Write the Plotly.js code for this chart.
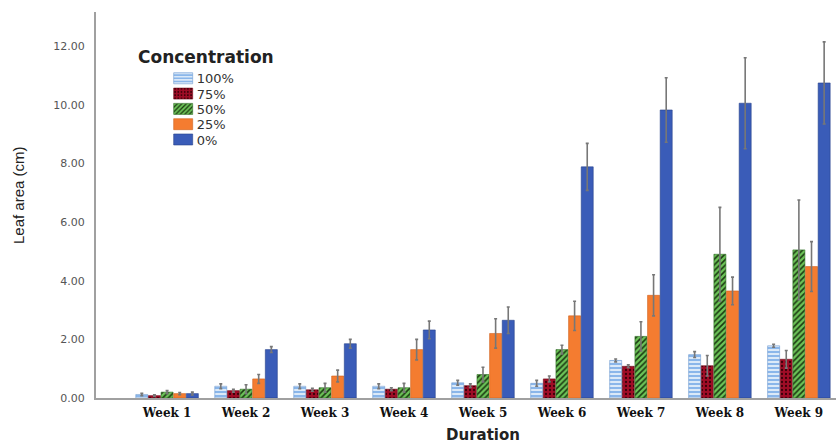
<!DOCTYPE html>
<html>
<head>
<meta charset="utf-8">
<script src="https://cdn.plot.ly/plotly-3.0.1.min.js"></script>
<style>html,body{margin:0;padding:0;background:#fff;}#chart{width:836px;height:443px;}</style>
</head>
<body>
<div id="chart"></div>
<script>
const weeks = ['Week 1','Week 2','Week 3','Week 4','Week 5','Week 6','Week 7','Week 8','Week 9'];
const seriesNames = ['100%','75%','50%','25%','0%'];
const conc100 = [0.12,0.40,0.40,0.40,0.52,0.50,1.28,1.48,1.78];
const conc75  = [0.08,0.25,0.28,0.30,0.42,0.65,1.08,1.10,1.32];
const conc50  = [0.20,0.30,0.35,0.35,0.80,1.65,2.10,4.90,5.05];
const conc25  = [0.15,0.65,0.75,1.65,2.20,2.80,3.50,3.65,4.48];
const conc0   = [0.15,1.65,1.85,2.32,2.65,7.88,9.82,10.05,10.74];
const err100 = [0.04,0.08,0.08,0.08,0.08,0.10,0.05,0.10,0.05];
const err75  = [0.03,0.05,0.05,0.05,0.06,0.10,0.05,0.35,0.30];
const err50  = [0.05,0.15,0.15,0.15,0.25,0.15,0.50,1.60,1.70];
const err25  = [0.04,0.15,0.20,0.35,0.50,0.50,0.70,0.47,0.85];
const err0   = [0.05,0.10,0.15,0.30,0.45,0.80,1.10,1.55,1.40];
const yTicks = [0,2,4,6,8,10,12];

const values = [conc100, conc75, conc50, conc25, conc0];
const errors = [err100, err75, err50, err25, err0];
const styles = [
  {color:'#8ab6ea', line:'#6f9ad0', pattern:{shape:'-', fgcolor:'#ffffff', bgcolor:'#8ab6ea', size:4, solidity:0.35}},
  {color:'#a00c26', line:'#6e0818', pattern:{shape:'.', fgcolor:'#3a0008', bgcolor:'#a00c26', size:4, solidity:0.25}},
  {color:'#55b545', line:'#2f6e25', pattern:{shape:'/', fgcolor:'#1c3a12', bgcolor:'#6cc458', size:4, solidity:0.4}},
  {color:'#f47c30', line:'#d0621c', pattern:null},
  {color:'#3a5cb8', line:'#27418a', pattern:null}
];

const traces = seriesNames.map((n,i)=>{
  const m = {color: styles[i].color, line:{color: styles[i].line, width:0.6}};
  if (styles[i].pattern) m.pattern = styles[i].pattern;
  return {
    type:'bar', name:n, x:weeks, y:values[i], marker:m,
    error_y:{type:'data', array:errors[i], visible:true, color:'#777777', thickness:1.6, width:1.5}
  };
});

const layout = {
  width:836, height:443,
  margin:{l:96, r:0, t:12, b:45},
  paper_bgcolor:'#ffffff', plot_bgcolor:'#ffffff',
  barmode:'group', bargap:0.2, bargroupgap:0.05,
  showlegend:true,
  legend:{x:0.082, y:0.867, xanchor:'left', yanchor:'top', bgcolor:'rgba(0,0,0,0)', borderwidth:0,
          font:{family:'DejaVu Sans, Arial, sans-serif', size:13, color:'#333333'}, tracegroupgap:0},
  xaxis:{type:'category', categoryorder:'array', categoryarray:weeks, range:[-0.9, 8.47],
         showline:true, linecolor:'#a0a0a0', linewidth:2, showgrid:false, zeroline:false,
         ticks:'outside', ticklen:3, tickcolor:'rgba(0,0,0,0)',
         tickfont:{family:'DejaVu Serif, Liberation Serif, serif', size:12, color:'#111111', weight:'bold'}},
  yaxis:{range:[0,13.16], tickvals:yTicks, tickformat:'.2f',
         showline:true, linecolor:'#a0a0a0', linewidth:2, showgrid:false, zeroline:false,
         ticks:'outside', ticklen:7, tickcolor:'rgba(0,0,0,0)',
         tickfont:{family:'DejaVu Sans, Arial, sans-serif', size:11, color:'#555555'}},
  annotations:[
    {text:'<b>Concentration</b>', xref:'paper', yref:'paper', x:0.054, y:0.883, xanchor:'left', yanchor:'middle',
     showarrow:false, font:{family:'DejaVu Sans, Arial, sans-serif', size:17, color:'#222222'}},
    {text:'<b>Duration</b>', xref:'paper', yref:'paper', x:0.523, y:-0.096, xanchor:'center', yanchor:'middle',
     showarrow:false, font:{family:'DejaVu Sans, Arial, sans-serif', size:15, color:'#222222'}},
    {text:'Leaf area (cm)', xref:'paper', yref:'paper', x:-0.104, y:0.526, xanchor:'center', yanchor:'middle',
     textangle:-90, showarrow:false, font:{family:'Liberation Sans, Arial, sans-serif', size:15, color:'#222222'}}
  ]
};

Plotly.newPlot('chart', traces, layout, {staticPlot:true}).then(gd=>{
  // compact legend item spacing to match the reference
  const items = gd.querySelectorAll('.legend .traces');
  let y0 = null;
  items.forEach((g,i)=>{
    const t = g.getAttribute('transform') || '';
    const m = t.match(/translate\(([-\d.]+)[ ,]+([-\d.]+)\)/);
    if (!m) return;
    if (y0 === null) y0 = parseFloat(m[2]);
    g.setAttribute('transform', 'translate(' + m[1] + ',' + (y0 + i*15.3) + ')');
  });
  gd.querySelectorAll('.legend .legendpoints path').forEach(p=>{
    p.setAttribute('d','M16,5.5H-3V-5.5H16Z');
  });
});
</script>
</body>
</html>
